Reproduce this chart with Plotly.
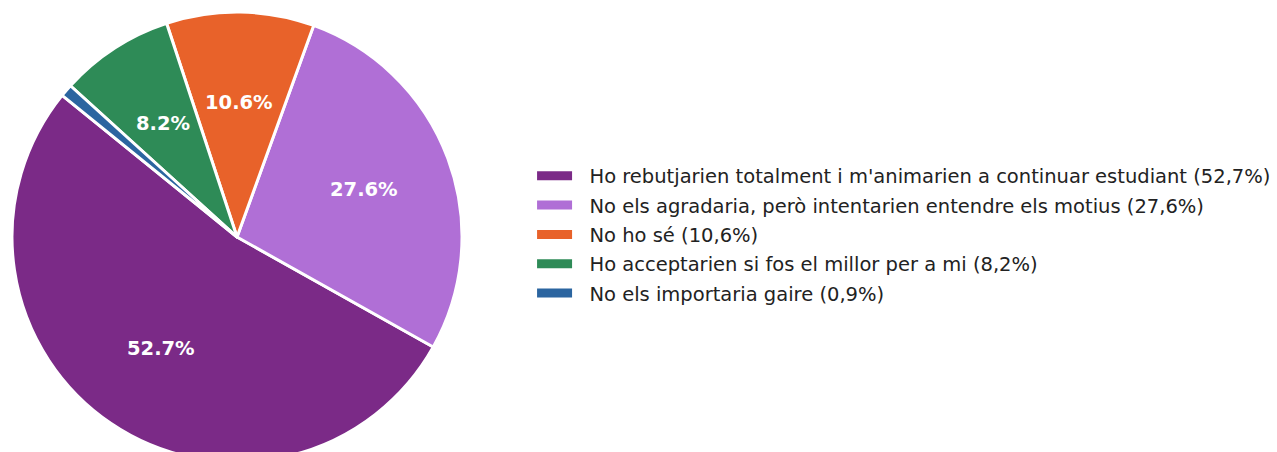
import math
import plotly.graph_objects as go

labels = [
    "Ho rebutjarien totalment i m'animarien a continuar estudiant (52,7%)",
    "No els agradaria, però intentarien entendre els motius (27,6%)",
    "No ho sé (10,6%)",
    "Ho acceptarien si fos el millor per a mi (8,2%)",
    "No els importaria gaire (0,9%)",
]
values = [52.7, 27.6, 10.6, 8.2, 0.9]
colors = ["#7B2A87", "#B06FD6", "#E8622A", "#2E8B57", "#2B65A0"]
show_pct = [True, True, True, True, False]

START_ANGLE = 141  # degrees, counterclockwise from 3 o'clock (start of first slice)
PCT_DIST = 0.6

W, H = 1277, 474
ML, MT, MB, MR = 12, 12, 12, 0
plot_w = W - ML - MR
plot_h = H - MT - MB
diam = plot_h

total = sum(values)
# plotly (counterclockwise) ends the first slice at 90 - rotation
rot = 90 - (START_ANGLE + 360 * values[0] / total)
rot = ((rot + 180) % 360) - 180

fig = go.Figure()
fig.add_trace(go.Pie(
    labels=labels,
    values=values,
    sort=False,
    direction="counterclockwise",
    rotation=rot,
    marker=dict(colors=colors, line=dict(color="white", width=3)),
    textinfo="none",
    domain=dict(x=[0, diam / plot_w], y=[0, 1]),
    showlegend=False,
    hoverinfo="skip",
))

# percentage labels placed like matplotlib's autopct (pctdistance = 0.6)
cx, cy = (diam / 2) / plot_w, 0.5
rx, ry = (diam / 2) / plot_w, 0.5
acc = 0.0
for v, show in zip(values, show_pct):
    mid = math.radians(START_ANGLE + 360 * (acc + v / 2) / total)
    acc += v
    if not show:
        continue
    fig.add_annotation(
        x=cx + PCT_DIST * rx * math.cos(mid), y=cy + PCT_DIST * ry * math.sin(mid),
        xref="paper", yref="paper", xanchor="center", yanchor="middle",
        text=f"{v:.1f}%", showarrow=False,
        font=dict(family="DejaVu Sans", size=19.5, color="white", weight="bold"),
    )

for i, (lab, col) in enumerate(zip(labels, colors)):
    fig.add_trace(go.Scatter(
        x=[None], y=[None], mode="lines",
        line=dict(color=col, width=9),
        name="\u00a0\u00a0" + lab, legendgroup=f"g{i}", showlegend=True,
    ))

fig.update_layout(
    width=W, height=H,
    margin=dict(l=ML, r=MR, t=MT, b=MB),
    paper_bgcolor="white", plot_bgcolor="white",
    xaxis=dict(visible=False), yaxis=dict(visible=False),
    legend=dict(
        x=525 / W, xanchor="left", y=0.5 + 2.5 / plot_h, yanchor="middle",
        font=dict(family="DejaVu Sans", size=19.5, color="#222222"),
        traceorder="grouped", tracegroupgap=1, itemwidth=35,
        bgcolor="rgba(0,0,0,0)",
    ),
)

fig.write_html(
    "out.html",
    config={"displayModeBar": False},
    post_script="document.body.style.margin='0';document.body.style.overflow='hidden';",
)
